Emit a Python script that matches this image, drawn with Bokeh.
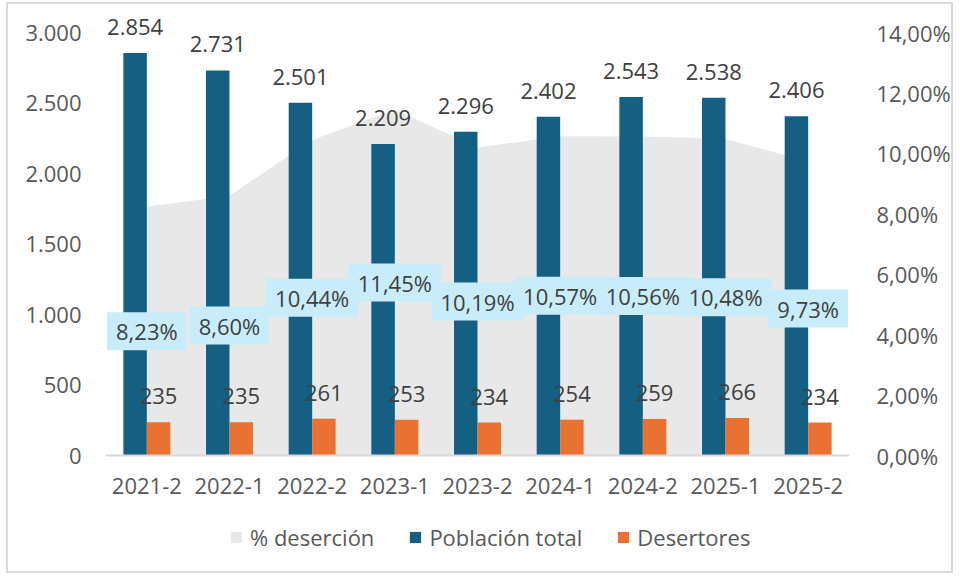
from bokeh.plotting import figure
from bokeh.models import (ColumnDataSource, FactorRange, Range1d, LinearAxis,
                          FixedTicker, Legend, LegendItem)
from bokeh.transform import dodge
from bokeh.core.properties import value
from bokeh.embed import file_html
from bokeh.resources import INLINE

# ---- data ----
periodos = ["2021-2", "2022-1", "2022-2", "2023-1", "2023-2",
            "2024-1", "2024-2", "2025-1", "2025-2"]
poblacion_total = [2854, 2731, 2501, 2209, 2296, 2402, 2543, 2538, 2406]
desertores = [235, 235, 261, 253, 234, 254, 259, 266, 234]
desercion_pct = [8.23, 8.60, 10.44, 11.45, 10.19, 10.57, 10.56, 10.48, 9.73]

left_ticks = [0, 500, 1000, 1500, 2000, 2500, 3000]
left_tick_labels = ["0", "500", "1.000", "1.500", "2.000", "2.500", "3.000"]
right_ticks = [0, 2, 4, 6, 8, 10, 12, 14]
right_tick_labels = ["0,00%", "2,00%", "4,00%", "6,00%", "8,00%",
                     "10,00%", "12,00%", "14,00%"]

FONT = "Open Sans"
FS = "22px"
AXIS_COLOR = "#595959"
LABEL_COLOR = "#404040"
BLUE = "#156082"
ORANGE = "#E97132"
GRAY = "#E8E8E8"
BOX = "#C9ECFA"

# ---- layout (pixels, content box of the figure) ----
W, H = 947, 571
FRAME_LEFT, FRAME_RIGHT = 97, 841
AXIS_TOP_PX, ZERO_PX = 28, 451          # where 3000 / 14% and 0 sit
LEFT_MAX, RIGHT_MAX = 3000, 14
ppu_l = (ZERO_PX - AXIS_TOP_PX) / LEFT_MAX
ppu_r = (ZERO_PX - AXIS_TOP_PX) / RIGHT_MAX
y_left = Range1d(-(H - ZERO_PX) / ppu_l, ZERO_PX / ppu_l)
y_right = Range1d(-(H - ZERO_PX) / ppu_r, ZERO_PX / ppu_r)

src = ColumnDataSource(dict(
    cat=periodos,
    pob=poblacion_total,
    des=desertores,
    pct=desercion_pct,
    pct_mid=[v / 2 for v in desercion_pct],
    pob_lbl=[f"{v:,}".replace(",", ".") for v in poblacion_total],
    des_lbl=[str(v) for v in desertores],
    pct_lbl=[f"{v:.2f}".replace(".", ",") + "%" for v in desercion_pct],
))

p = figure(x_range=FactorRange(*periodos), y_range=y_left,
           width=W, height=H, output_backend="svg", toolbar_location=None,
           min_border_left=FRAME_LEFT, min_border_right=W - FRAME_RIGHT,
           min_border_top=0, min_border_bottom=0)
p.extra_y_ranges = {"pct": y_right}
p.outline_line_color = None
p.xgrid.grid_line_color = None
p.ygrid.grid_line_color = None
p.background_fill_color = "white"
p.border_fill_color = "white"
p.styles = {"border": "2px solid #D9D9D9", "margin-left": "6px",
            "margin-top": "2px"}

# area (% deserción) on secondary axis
area = p.varea(x="cat", y1=0, y2="pct", source=src, y_range_name="pct",
               fill_color=GRAY)

bw = 0.284
b1 = p.vbar(x=dodge("cat", -bw / 2, range=p.x_range), top="pob", width=bw,
            source=src, fill_color=BLUE, line_color=None)
b2 = p.vbar(x=dodge("cat", bw / 2, range=p.x_range), top="des", width=bw,
            source=src, fill_color=ORANGE, line_color=None)

# data labels
p.text(x=dodge("cat", -bw / 2, range=p.x_range), y="pob", text="pob_lbl",
       source=src, text_align="center", text_baseline="alphabetic",
       y_offset=-26, text_font=value(FONT), text_font_size=FS,
       text_color=LABEL_COLOR)
p.text(x=dodge("cat", bw / 2, range=p.x_range), y="des", text="des_lbl",
       source=src, text_align="center", text_baseline="alphabetic",
       y_offset=-26, text_font=value(FONT), text_font_size=FS,
       text_color=LABEL_COLOR)
p.text(x="cat", y="pct_mid", text="pct_lbl", source=src, y_range_name="pct",
       text_align="center", text_baseline="middle", text_font=value(FONT),
       text_font_size=FS, text_color=LABEL_COLOR,
       background_fill_color=BOX, padding=(9, 9, 4, 4))

# axes
p.xaxis.fixed_location = 0
p.xaxis.axis_line_color = "#D9D9D9"
p.xaxis.axis_line_width = 2
p.xaxis.major_tick_line_color = None
p.xaxis.minor_tick_line_color = None
p.xaxis.major_label_standoff = 16
p.xaxis.major_label_text_font = FONT
p.xaxis.major_label_text_font_size = FS
p.xaxis.major_label_text_color = AXIS_COLOR

p.yaxis.ticker = FixedTicker(ticks=left_ticks)
p.yaxis.major_label_overrides = dict(zip(left_ticks, left_tick_labels))
p.yaxis.axis_line_color = None
p.yaxis.major_tick_line_color = None
p.yaxis.minor_tick_line_color = None
p.yaxis.major_label_standoff = 18
p.yaxis.major_label_text_font = FONT
p.yaxis.major_label_text_font_size = FS
p.yaxis.major_label_text_color = AXIS_COLOR

ra = LinearAxis(y_range_name="pct", ticker=FixedTicker(ticks=right_ticks))
ra.major_label_overrides = dict(zip(right_ticks, right_tick_labels))
ra.axis_line_color = None
ra.major_tick_line_color = None
ra.minor_tick_line_color = None
ra.major_label_standoff = 21
ra.major_label_text_font = FONT
ra.major_label_text_font_size = FS
ra.major_label_text_color = AXIS_COLOR
p.add_layout(ra, "right")

legend = Legend(items=[
    LegendItem(label="% deserción", renderers=[area]),
    LegendItem(label="Población total", renderers=[b1]),
    LegendItem(label="Desertores", renderers=[b2]),
], orientation="horizontal", location=(124, 23))
legend.glyph_width = 14
legend.glyph_height = 14
legend.label_standoff = 7
legend.spacing = 34
legend.padding = 4
legend.margin = 0
legend.border_line_color = None
legend.background_fill_alpha = 0
legend.label_text_font = FONT
legend.label_text_font_size = FS
legend.label_text_color = AXIS_COLOR
p.add_layout(legend, "center")

open("out.html", "w").write(file_html(p, INLINE))
